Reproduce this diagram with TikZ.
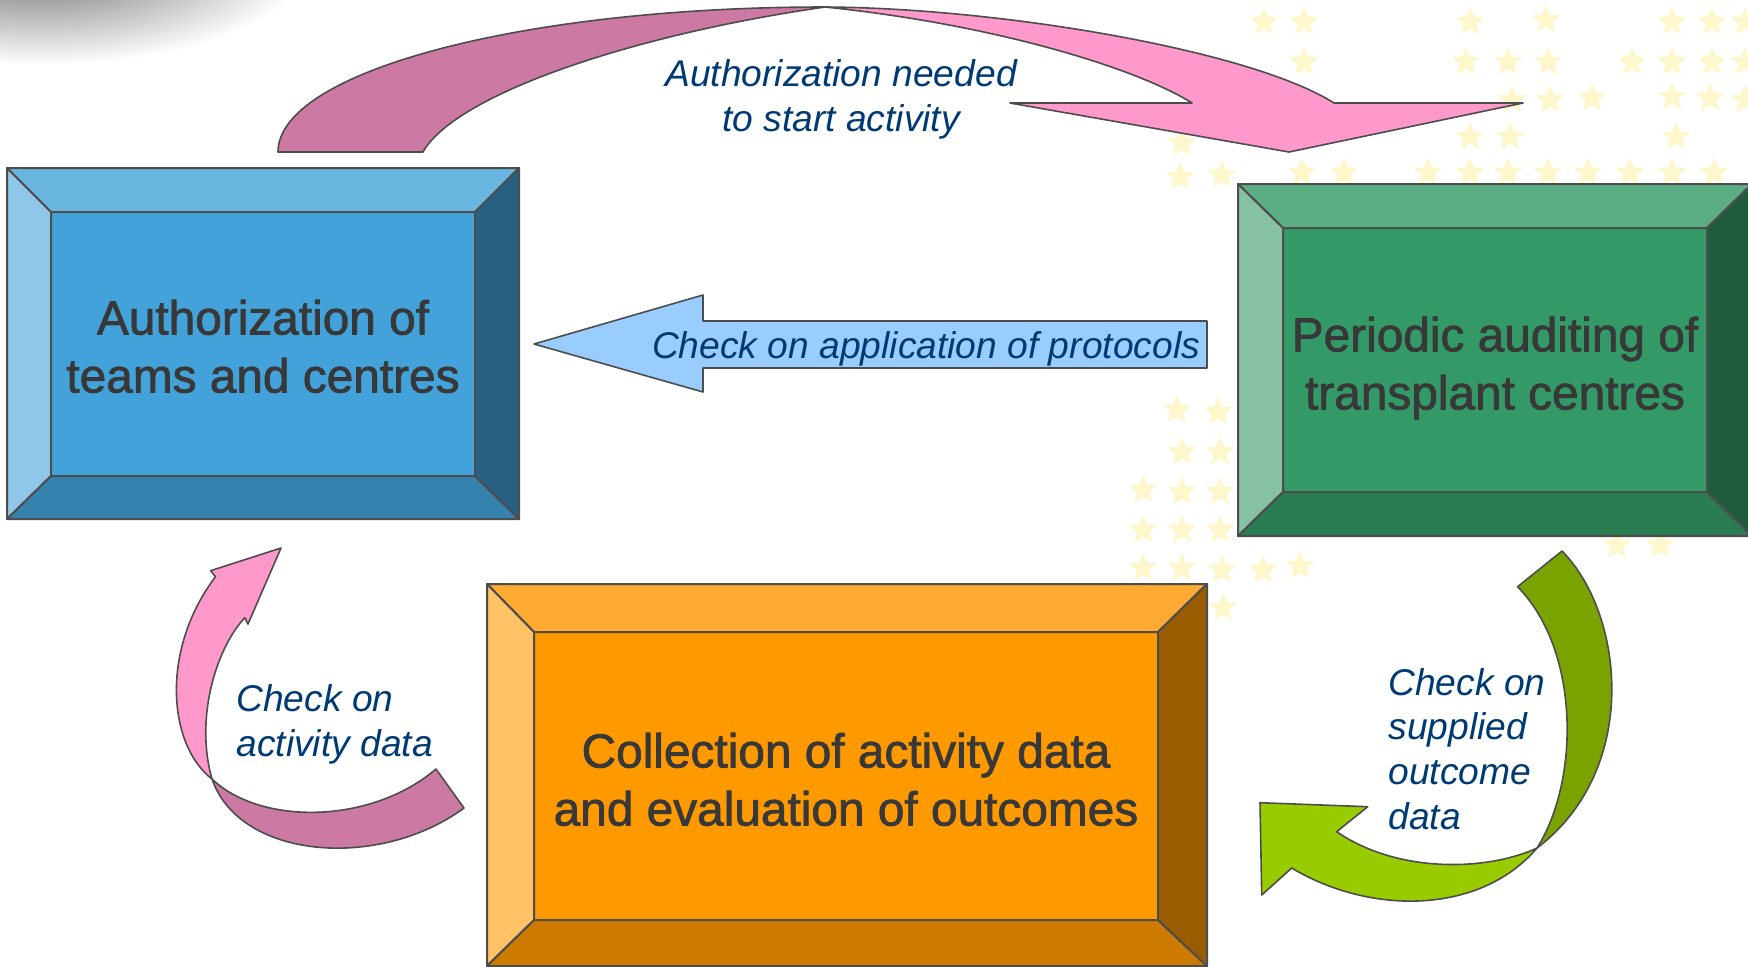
\documentclass[tikz,border=0pt]{standalone}
\usepackage{fontspec}
\setmainfont{Liberation Sans}
\newfontface\boxface{Liberation Sans}[FakeBold=1.6]
\usetikzlibrary{shapes.geometric}

\definecolor{edgegray}{HTML}{4D4D4D}
\definecolor{boxgray}{HTML}{383838}
\definecolor{notenavy}{HTML}{003A75}
\definecolor{authTop}{HTML}{68B5E0}
\definecolor{authLeft}{HTML}{8FC7E8}
\definecolor{authFace}{HTML}{42A2D9}
\definecolor{authBottom}{HTML}{3582AE}
\definecolor{authRight}{HTML}{276082}
\definecolor{auditTop}{HTML}{5BAD84}
\definecolor{auditLeft}{HTML}{85C1A2}
\definecolor{auditFace}{HTML}{339966}
\definecolor{auditBottom}{HTML}{2A7C52}
\definecolor{auditRight}{HTML}{1F5C3D}
\definecolor{collTop}{HTML}{FFAA33}
\definecolor{collLeft}{HTML}{FFC266}
\definecolor{collFace}{HTML}{FF9900}
\definecolor{collBottom}{HTML}{CC7A00}
\definecolor{collRight}{HTML}{995C00}
\definecolor{pinkFront}{HTML}{FF99CC}
\definecolor{pinkBack}{HTML}{CC79A3}
\definecolor{limeFront}{HTML}{99CC00}
\definecolor{limeBack}{HTML}{7AA300}
\definecolor{skyArrow}{HTML}{99CCFF}
\definecolor{starfill}{HTML}{FFF7CC}
\definecolor{blobgray}{HTML}{6A6A6A}

\begin{document}
\begin{tikzpicture}[x=0.5pt, y=-0.5pt, line join=round,
    face/.style={draw=edgegray, line width=1pt, text=boxgray, align=center,
      font=\fontsize{23.9}{29}\boxface},
    bevel/.style={draw=edgegray, line width=1pt},
    band/.style={draw=edgegray, line width=0.8pt},
    note/.style={inner sep=0pt, text=notenavy, font=\fontsize{18.6}{22.4}\selectfont\itshape},
    sparkle/.style={star, star points=5, star point ratio=2.2, minimum size=15pt,
      inner sep=0pt, fill=starfill}]

      \useasboundingbox (0,0) rectangle (1748,966);
      \shade[inner color=blobgray, outer color=white] (40,-40) ellipse [x radius=270, y radius=105];

      \foreach \x/\y in {1264/22, 1304/22, 1470/22, 1546/20, 1672/22, 1712/22, 1745/22,
          1304/62, 1466/62, 1508/62, 1548/62, 1632/62, 1672/62, 1712/62, 1745/62,
          1512/100, 1550/100, 1592/98, 1672/97, 1710/98, 1745/100,
          1182/143, 1470/137, 1510/137, 1676/137,
          1180/177, 1222/175, 1302/173, 1344/173, 1428/173, 1470/173, 1508/173, 1548/173,
          1588/173, 1630/173, 1672/173, 1714/173,
          1177/410, 1218/412, 1182/452, 1220/452, 1143/490, 1182/492, 1220/492,
          1143/530, 1182/530, 1220/530, 1143/568, 1182/568, 1222/570, 1263/570,
          1300/566, 1223/608, 1617/545, 1660/545}
        \node[sparkle] (st-\x-\y) at (\x,\y) {};

      \filldraw[band, fill=pinkBack] (278,152) .. controls (278,72) and (521,7) .. (825,7)
        .. controls (630,35) and (455,95) .. (423,152) -- cycle;
      \filldraw[band, fill=pinkFront] (825,7) .. controls (1000,8) and (1250,50) .. (1334,103)
        -- (1523,103) -- (1289,152) -- (1010,103) -- (1192,103)
        .. controls (1140,70) and (1000,25) .. (825,7) -- cycle;

      \filldraw[band, fill=skyArrow] (534,344) -- (703,295) -- (703,321) -- (1207,321)
        -- (1207,368) -- (703,368) -- (703,392) -- cycle;

      \filldraw[band, fill=pinkBack] (212,779) .. controls (260,825) and (370,825) .. (436,769)
        -- (464,808) .. controls (380,870) and (240,860) .. (212,779) -- cycle;
      \filldraw[band, fill=pinkFront] (212,779) .. controls (168,745) and (160,650) .. (215.5,576.7)
        -- (210.6,570.7) -- (281,548) -- (248,624) -- (244.7,617.7)
        .. controls (215,650) and (195,720) .. (212,779) -- cycle;

      \filldraw[band, fill=limeBack] (1562,551) .. controls (1625,615) and (1640,770) .. (1537,848)
        .. controls (1580,780) and (1580,650) .. (1517.5,586.7) -- cycle;
      \filldraw[band, fill=limeFront] (1537,848) .. controls (1490,870) and (1400,875) .. (1336.7,831.7)
        -- (1367.7,806.7) -- (1260,802.7) -- (1261.7,895) -- (1291.7,868)
        .. controls (1370,915) and (1480,915) .. (1537,848) -- cycle;

      \begin{scope}[every node/.style={inner sep=0pt, outer sep=0pt}]
        \node[face, fill=authFace, minimum width=212pt, minimum height=132pt] (auth) at (263,344)
          {\raisebox{-1.2pt}[\height][\depth]{Authorization of}\\\raisebox{-1.2pt}[\height][\depth]{teams and centres}};
        \node[minimum width=256pt, minimum height=175.5pt] (authFrame) at (263,343.5) {};
        \node[face, fill=auditFace, minimum width=212pt, minimum height=132pt] (audit) at (1495,360)
          {\raisebox{-4pt}[\height][\depth]{Periodic auditing of}\\\raisebox{-4pt}[\height][\depth]{transplant centres}};
        \node[minimum width=257pt, minimum height=176pt] (auditFrame) at (1495,360) {};
        \node[face, fill=collFace, minimum width=312pt, minimum height=144pt] (collect) at (846,776)
          {\raisebox{-1.7pt}[\height][\depth]{Collection of activity data}\\\raisebox{-1.7pt}[\height][\depth]{and evaluation of outcomes}};
        \node[minimum width=360pt, minimum height=191pt] (collectFrame) at (847,775) {};
      \end{scope}

      \filldraw[bevel, fill=authTop] (authFrame.north west) -- (authFrame.north east) -- (auth.north east) -- (auth.north west) -- cycle;
      \filldraw[bevel, fill=authLeft] (authFrame.north west) -- (auth.north west) -- (auth.south west) -- (authFrame.south west) -- cycle;
      \filldraw[bevel, fill=authBottom] (authFrame.south west) -- (auth.south west) -- (auth.south east) -- (authFrame.south east) -- cycle;
      \filldraw[bevel, fill=authRight] (authFrame.north east) -- (authFrame.south east) -- (auth.south east) -- (auth.north east) -- cycle;

      \filldraw[bevel, fill=auditTop] (auditFrame.north west) -- (auditFrame.north east) -- (audit.north east) -- (audit.north west) -- cycle;
      \filldraw[bevel, fill=auditLeft] (auditFrame.north west) -- (audit.north west) -- (audit.south west) -- (auditFrame.south west) -- cycle;
      \filldraw[bevel, fill=auditBottom] (auditFrame.south west) -- (audit.south west) -- (audit.south east) -- (auditFrame.south east) -- cycle;
      \filldraw[bevel, fill=auditRight] (auditFrame.north east) -- (auditFrame.south east) -- (audit.south east) -- (audit.north east) -- cycle;

      \filldraw[bevel, fill=collTop] (collectFrame.north west) -- (collectFrame.north east) -- (collect.north east) -- (collect.north west) -- cycle;
      \filldraw[bevel, fill=collLeft] (collectFrame.north west) -- (collect.north west) -- (collect.south west) -- (collectFrame.south west) -- cycle;
      \filldraw[bevel, fill=collBottom] (collectFrame.south west) -- (collect.south west) -- (collect.south east) -- (collectFrame.south east) -- cycle;
      \filldraw[bevel, fill=collRight] (collectFrame.north east) -- (collectFrame.south east) -- (collect.south east) -- (collect.north east) -- cycle;

      \node[note, align=center] (needLabel) at (841,99) {Authorization needed\\to start activity};
      \node[note] (protoLabel) at (926,349) {Check on application of protocols};
      \node[note, align=left, anchor=west] (activityLabel) at (236,724) {Check on\\activity data};
      \node[note, align=left, anchor=west] (outcomeLabel) at (1388,749) {Check on\\supplied\\outcome\\data};

    \end{tikzpicture}
\end{document}
